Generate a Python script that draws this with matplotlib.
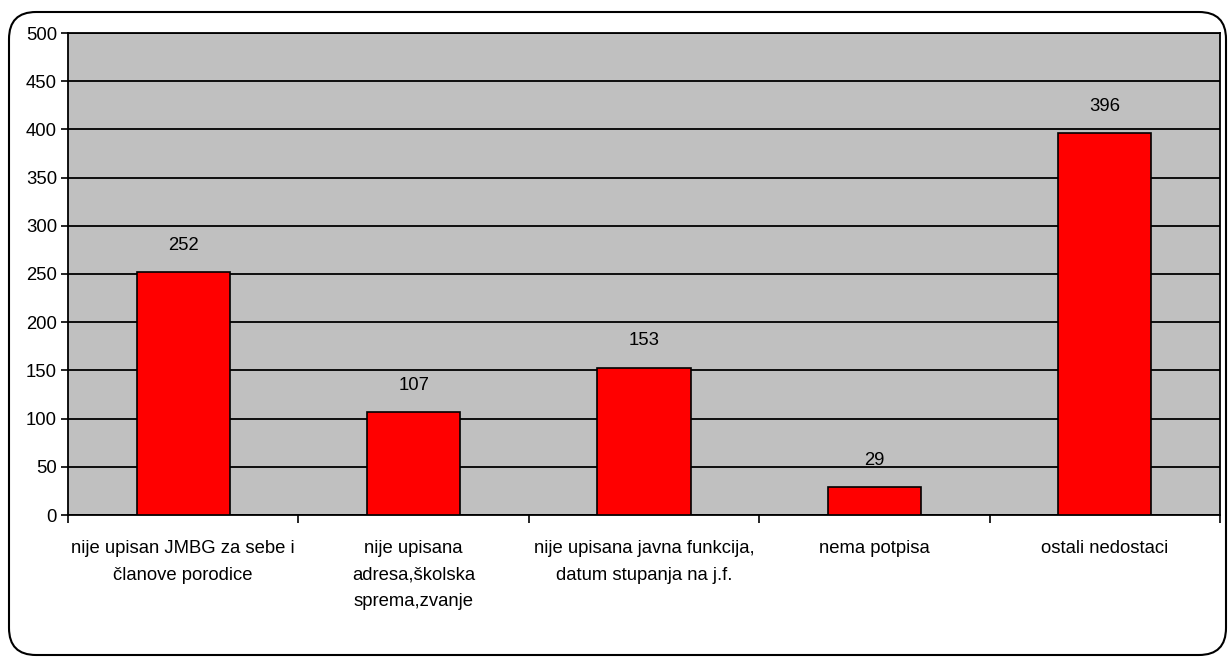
import numpy as np
import matplotlib.pyplot as plt
from matplotlib.patches import FancyBboxPatch

categories = [
    'nije upisan JMBG za sebe i\nčlanove porodice',
    'nije upisana\nadresa,školska\nsprema,zvanje',
    'nije upisana javna funkcija,\ndatum stupanja na j.f.',
    'nema potpisa',
    'ostali nedostaci',
]
values = [252, 107, 153, 29, 396]
yticks = [0, 50, 100, 150, 200, 250, 300, 350, 400, 450, 500]

plt.rcParams['font.family'] = ['Liberation Sans', 'DejaVu Sans']

fig = plt.figure(figsize=(12.29, 6.58), dpi=100)

# rounded frame around the whole chart
frame = FancyBboxPatch((9 / 1229, 3 / 658), 1217 / 1229, 643 / 658,
                       boxstyle='round,pad=0,rounding_size=0.022',
                       transform=fig.transFigure, facecolor='none',
                       edgecolor='black', linewidth=1.5, zorder=-1,
                       mutation_aspect=1229 / 658)
fig.patches.append(frame)

ax = fig.add_axes([68 / 1229, 1 - 515 / 658, (1220 - 68) / 1229, (515 - 33) / 658])
ax.set_facecolor('#c0c0c0')

x = np.arange(len(values))
ax.bar(x, values, width=0.405, color='#ff0000', edgecolor='black', linewidth=1.2, zorder=3)
for xi, v in zip(x, values):
    ax.annotate(str(v), (xi, v), xytext=(0, 13), textcoords='offset points',
                ha='center', va='bottom', fontsize=13.3)

ax.set_xlim(-0.5, len(values) - 0.5)
ax.set_ylim(0, 500)
ax.set_yticks(yticks)
ax.tick_params(axis='y', labelsize=13.3, length=5, width=1.2, direction='out', pad=3)
ax.yaxis.grid(True, color='black', linewidth=1.3, zorder=1)
ax.set_axisbelow(True)

# ticks at category boundaries, labels drawn as text under each bar
ax.set_xticks(np.arange(len(values) + 1) - 0.5)
ax.set_xticklabels([])
ax.tick_params(axis='x', which='major', length=6, width=1.2, direction='out')
for xi, lab in zip(x, categories):
    ax.annotate(lab, (xi, 0), xycoords=('data', 'axes fraction'),
                xytext=(0, -18), textcoords='offset points',
                ha='center', va='top', fontsize=13.3, linespacing=1.75)

for s in ax.spines.values():
    s.set_linewidth(1.3)

fig.savefig('out.png', dpi=100)
